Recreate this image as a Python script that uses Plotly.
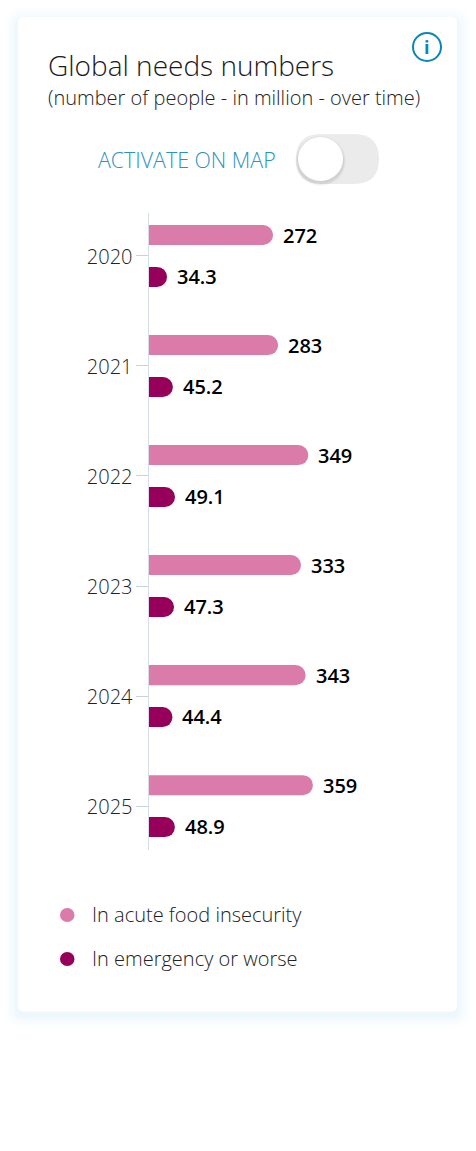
import plotly.graph_objects as go

W, H = 476, 1151
years = [2020, 2021, 2022, 2023, 2024, 2025]
acute = [272, 283, 349, 333, 343, 359]
emergency = [34.3, 45.2, 49.1, 47.3, 44.4, 48.9]
PINK = "#db7ba9"
PURPLE = "#96005b"
FONT = "Open Sans"

def px(x): return x / W
def py(y): return 1 - y / H

def rrect(x0, y0, x1, y1, r):
    return (f"M{px(x0+r)},{py(y0)} L{px(x1-r)},{py(y0)} Q{px(x1)},{py(y0)} {px(x1)},{py(y0+r)} "
            f"L{px(x1)},{py(y1-r)} Q{px(x1)},{py(y1)} {px(x1-r)},{py(y1)} "
            f"L{px(x0+r)},{py(y1)} Q{px(x0)},{py(y1)} {px(x0)},{py(y1-r)} "
            f"L{px(x0)},{py(y0+r)} Q{px(x0)},{py(y0)} {px(x0+r)},{py(y0)} Z")

shapes = []
# soft card shadow: opaque rings fading out to white
N = 16
for i in range(N, 0, -1):
    t = (1 - i / (N + 1)) ** 1.6
    c = f"rgb({round(255-20*t)},{round(255-9*t)},{round(255-3*t)})"
    shapes.append(dict(type="path", xref="paper", yref="paper", layer="below",
                       path=rrect(18-i, 17-i+4, 457+i, 1011+i+4, 6+i),
                       fillcolor=c, line_width=0))
shapes.append(dict(type="path", xref="paper", yref="paper", layer="below",
                   path=rrect(18, 17, 457, 1011.5, 6), fillcolor="white", line_width=0))
# toggle
shapes.append(dict(type="path", xref="paper", yref="paper", layer="below",
                   path=rrect(296, 134, 379, 184, 25), fillcolor="#ebebeb", line_width=0))
for i, a in [(3, .04), (2, .06), (1, .08)]:
    shapes.append(dict(type="circle", xref="paper", yref="paper", layer="below",
                       x0=px(298-i), x1=px(343+i), y0=py(137-i+2), y1=py(181+i+2),
                       fillcolor=f"rgba(90,90,90,{a})", line_width=0))
shapes.append(dict(type="circle", xref="paper", yref="paper", layer="below",
                   x0=px(298), x1=px(343), y0=py(137), y1=py(181), fillcolor="white", line_width=0))
# info icon
shapes.append(dict(type="circle", xref="paper", yref="paper",
                   x0=px(413), x1=px(441), y0=py(33), y1=py(61),
                   fillcolor="white", line=dict(color="#0a85b8", width=2)))
# legend dots
for yc, c in [(915, PINK), (959, PURPLE)]:
    shapes.append(dict(type="circle", xref="paper", yref="paper",
                       x0=px(60), x1=px(74.5), y0=py(yc-7), y1=py(yc+7), fillcolor=c, line_width=0))

def note(x, y, text, size, color, weight=300, anchor="left"):
    return dict(xref="paper", yref="paper", x=px(x), y=py(y), text=text, showarrow=False,
                xanchor=anchor, yanchor="middle", align="left",
                font=dict(family=FONT, size=size, color=color, weight=weight))

ann = [
    note(46, 65, "Global needs numbers", 28, "#1a1a1a"),
    note(46, 98, "(number of people - in million - over time)", 20, "#222222"),
    note(96, 160, "ACTIVATE ON MAP", 21.4, "#2a93c0"),
    note(427, 47, "i", 18, "#0a85b8", 700, "center"),
    note(90, 914, "In acute food insecurity", 20, "#222222"),
    note(90, 958, "In emergency or worse", 20, "#222222"),
]
for y, a, e in zip(years, acute, emergency):
    ann.append(dict(xref="x", yref="y", x=a, y=y-0.19, text=str(a), showarrow=False, xanchor="left",
                    xshift=8, font=dict(family=FONT, size=20, color="#000000", weight=600)))
    ann.append(dict(xref="x2", yref="y", x=e, y=y+0.19, text=str(e), showarrow=False, xanchor="left",
                    xshift=8, font=dict(family=FONT, size=20, color="#000000", weight=600)))

fig = go.Figure()
fig.add_bar(y=years, x=acute, orientation="h", marker=dict(color=PINK, line_width=0),
            width=0.182, offset=-0.281, xaxis="x", yaxis="y")
fig.add_bar(y=years, x=emergency, orientation="h", marker=dict(color=PURPLE, line_width=0),
            width=0.182, offset=0.1, xaxis="x2", yaxis="y")

L, R = 148.5, 440
T, B = 213, 850
fig.update_layout(
    width=W, height=H, margin=dict(l=0, r=0, t=0, b=0),
    paper_bgcolor="white", plot_bgcolor="rgba(0,0,0,0)",
    showlegend=False, barcornerradius=10, shapes=shapes, annotations=ann,
    xaxis=dict(domain=[px(L), px(R)], range=[0, (R-L)/0.458], visible=False, fixedrange=True),
    xaxis2=dict(domain=[px(L), px(R)], range=[0, (R-L)/0.54], visible=False, overlaying="x", fixedrange=True),
    yaxis=dict(domain=[py(B), py(T)], range=[2025+44/110.2, 2020-43/110.2], anchor="x",
               tickvals=years, ticktext=[str(y) for y in years], ticks="outside", ticklen=12,
               tickcolor="#c5d3dc", tickwidth=1, showline=True, linecolor="#d5dde8", linewidth=1,
               showgrid=False, zeroline=False, fixedrange=True, ticklabelstandoff=-1, ticklabelshift=-1,
               tickfont=dict(family=FONT, size=20, color="#222222", weight=300)),
)
fig.write_html("out.html", config=dict(displayModeBar=False),
               post_script="document.body.style.margin='0';document.body.style.overflow='hidden';")
